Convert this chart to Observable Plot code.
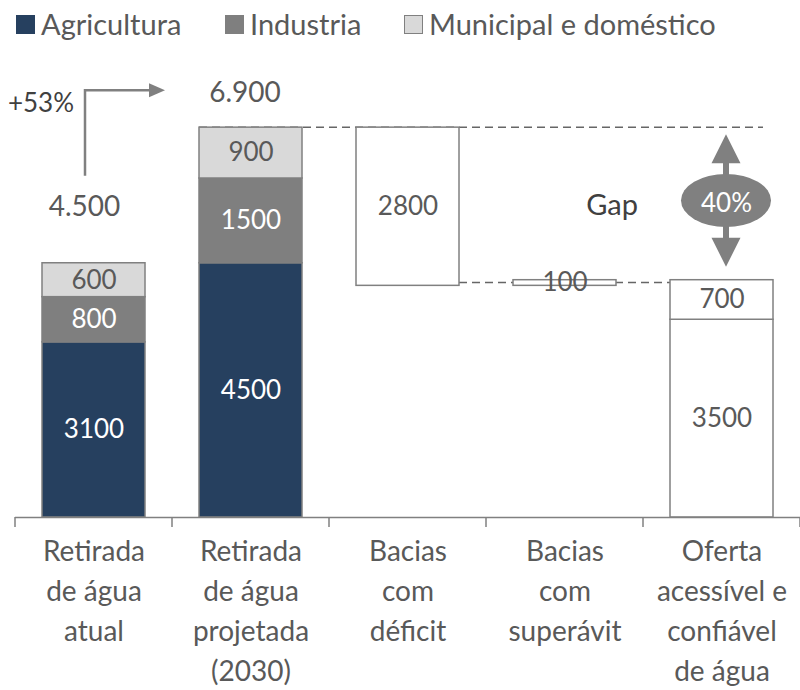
<!DOCTYPE html>
<html><head><meta charset="utf-8">
<script src="https://cdn.jsdelivr.net/npm/d3@7"></script>
<script src="https://cdn.jsdelivr.net/npm/@observablehq/plot@0.6"></script>
<style>
body{margin:0;background:#fff;font-family:Lato,"Open Sans",sans-serif;}
#legend{position:relative;height:50px;width:800px;}
.item{position:absolute;top:8px;font-size:29px;line-height:32px;color:#595959;white-space:nowrap;}
.sw{position:absolute;top:15px;width:19px;height:19px;box-sizing:border-box;}
#chart svg{display:block;}
</style></head><body>
<div id="legend"></div><div id="chart"></div>
<script>
// ---- data ----
const categories = ["Retirada de água atual","Retirada de água projetada (2030)","Bacias com déficit","Bacias com superávit","Oferta acessível e confiável de água"];
const tickLabels = ["Retirada\nde água\natual","Retirada\nde água\nprojetada\n(2030)","Bacias\ncom\ndéficit","Bacias\ncom\nsuperávit","Oferta\nacessível e\nconfiável\nde água"];
const seriesNames = ["Agricultura","Industria","Municipal e doméstico"];
const seriesColors = ["#26405f","#7f7f7f","#d9d9d9"];
const agricultura = [3100, 4500];
const industria = [800, 1500];
const municipal = [600, 900];
const deficit = 2800;
const superavit = 100;
const ofertaBase = 3500;
const ofertaExtra = 700;
const totalLabels = ["4.500","6.900"];
const growthLabel = "+53%";
const gapWord = "Gap";
const gapLabel = "40%";

// ---- legend ----
const legendX = [16, 225, 404];
const legend = document.getElementById("legend");
seriesNames.forEach((n,i)=>{
  const sw = document.createElement("div");
  sw.className="sw"; sw.style.left=legendX[i]+"px"; sw.style.background=seriesColors[i];
  if(i===2) sw.style.border="1.5px solid #808080";
  legend.appendChild(sw);
  const t = document.createElement("div");
  t.className="item"; t.style.left=(legendX[i]+25)+"px"; t.textContent=n;
  legend.appendChild(t);
});

// ---- build segments ----
const segments = [];
for (let i=0;i<2;i++){
  let base=0;
  [agricultura[i], industria[i], municipal[i]].forEach((v,k)=>{
    segments.push({cat:categories[i], y1:base, y2:base+v, value:v, fill:seriesColors[k], text: k===2 ? "#595959" : "#ffffff"});
    base+=v;
  });
}
const totals = [0,1].map(i=>agricultura[i]+industria[i]+municipal[i]);
const deficitBottom = totals[1]-deficit;
segments.push({cat:categories[2], y1:deficitBottom, y2:totals[1], value:deficit, fill:"#ffffff", text:"#595959"});
segments.push({cat:categories[3], y1:deficitBottom, y2:deficitBottom+superavit, value:superavit, fill:"#ffffff", text:"#595959"});
segments.push({cat:categories[4], y1:0, y2:ofertaBase, value:ofertaBase, fill:"#ffffff", text:"#595959"});
segments.push({cat:categories[4], y1:ofertaBase, y2:ofertaBase+ofertaExtra, value:ofertaExtra, fill:"#ffffff", text:"#595959"});
const supply = ofertaBase+ofertaExtra;

const PI = 0.344;
function geom(scales){
  const X=scales.x, Y=scales.y;
  const step = X(categories[1]) - X(categories[0]);
  const bw = X.bandwidth ? X.bandwidth() : step*(1-PI);
  return {X, Y, step, bw, cx: i => X(categories[i]) + bw/2};
}

function dashedLines(index, scales){
  const {X,Y,bw,cx} = geom(scales);
  const g = d3.create("svg:g").attr("stroke","#666").attr("stroke-width",1.5).attr("stroke-dasharray","8,5").attr("fill","none");
  g.append("line").attr("x1", X(categories[1])).attr("x2", X(categories[4])+bw-10)
    .attr("y1", Y(totals[1])).attr("y2", Y(totals[1]));
  const ym = Y((deficitBottom + supply)/2);
  g.append("line").attr("x1", X(categories[2])+bw).attr("x2", X(categories[4]))
    .attr("y1", ym).attr("y2", ym);
  return g.node();
}

function arrows(index, scales){
  const {X,Y,step,bw,cx} = geom(scales);
  const g = d3.create("svg:g");
  // axis ticks at band boundaries
  for (let k=0;k<=categories.length;k++){
    const xb = X(categories[0]) - (step-bw)/2 + k*step;
    g.append("line").attr("x1",xb).attr("x2",xb).attr("y1",Y(0)).attr("y2",Y(0)+10)
      .attr("stroke","#808080").attr("stroke-width",1.5);
  }
  // growth elbow arrow
  const x0 = cx(0)-8.5, y0 = Y(totals[0])-87, yTop = Y(totals[1])-37, xTip = cx(0)+71.5, xHead = xTip-16;
  g.append("path").attr("d",`M${x0},${y0}V${yTop}H${xHead}`).attr("fill","none").attr("stroke","#808080").attr("stroke-width",2.5);
  g.append("path").attr("d",`M${xHead},${yTop-7}L${xTip},${yTop}L${xHead},${yTop+7}Z`).attr("fill","#808080");
  // gap double arrow
  const gx = cx(4)+4.5, t1 = Y(totals[1])+7, t2 = Y(supply)-13, hh = 29, hw = 14.5;
  const ym = (t1+t2)/2;
  g.append("rect").attr("x",gx-3).attr("width",6).attr("y",t1+hh-1).attr("height",(t2-hh+1)-(t1+hh-1)).attr("fill","#808080");
  g.append("path").attr("d",`M${gx},${t1}L${gx+hw},${t1+hh}L${gx-hw},${t1+hh}Z`).attr("fill","#808080");
  g.append("path").attr("d",`M${gx},${t2}L${gx+hw},${t2-hh}L${gx-hw},${t2-hh}Z`).attr("fill","#808080");
  g.append("ellipse").attr("cx",gx).attr("cy",ym).attr("rx",45).attr("ry",26.5).attr("fill","#808080");
  return g.node();
}

const fs = 26;
const chart = Plot.plot({
  width: 800, height: 640,
  marginLeft: 15, marginRight: 0, marginTop: 15, marginBottom: 173,
  x: {domain: categories, paddingInner: PI, paddingOuter: PI/2, axis: null},
  y: {domain: [0, 8000], axis: null},
  color: {type: "identity"},
  style: {fontFamily: "Lato, 'Open Sans', sans-serif", background: "#fff"},
  marks: [
    dashedLines,
    Plot.barY(segments, {x:"cat", y1:"y1", y2:"y2", fill:"fill", stroke:"#808080", strokeWidth:1.5}),
    Plot.ruleY([0], {stroke:"#808080", strokeWidth:1.5}),
    arrows,
    Plot.text(segments, {x:"cat", y:d=>(d.y1+d.y2)/2, text:d=>String(d.value), fill:"text", fontSize:fs}),
    Plot.text(categories, {x:d=>d, y:()=>0, text:(d,i)=>tickLabels[i], lineAnchor:"top", dy:15, lineHeight:1.43, fontSize:28, fill:"#595959"}),
    Plot.text([totals[0]], {x:()=>categories[0], y:d=>d, text:()=>totalLabels[0], dx:-9.5, dy:-56, fontSize:28, fill:"#595959"}),
    Plot.text([totals[1]], {x:()=>categories[1], y:d=>d, text:()=>totalLabels[1], dx:-6, dy:-35, fontSize:28, fill:"#595959"}),
    Plot.text([totals[1]], {x:()=>categories[0], y:d=>d, text:()=>growthLabel, dx:-53, dy:-24, fontSize:fs, fill:"#404040"}),
    Plot.text([(totals[1]+supply)/2], {x:()=>categories[3], y:d=>d, text:()=>gapWord, dx:47, dy:2, fontSize:29, fill:"#404040"}),
    Plot.text([(totals[1]+supply)/2], {x:()=>categories[4], y:d=>d, text:()=>gapLabel, dx:4.5, dy:0, fontSize:fs, fill:"#ffffff"})
  ]
});
document.getElementById("chart").appendChild(chart);
</script>
</body></html>
